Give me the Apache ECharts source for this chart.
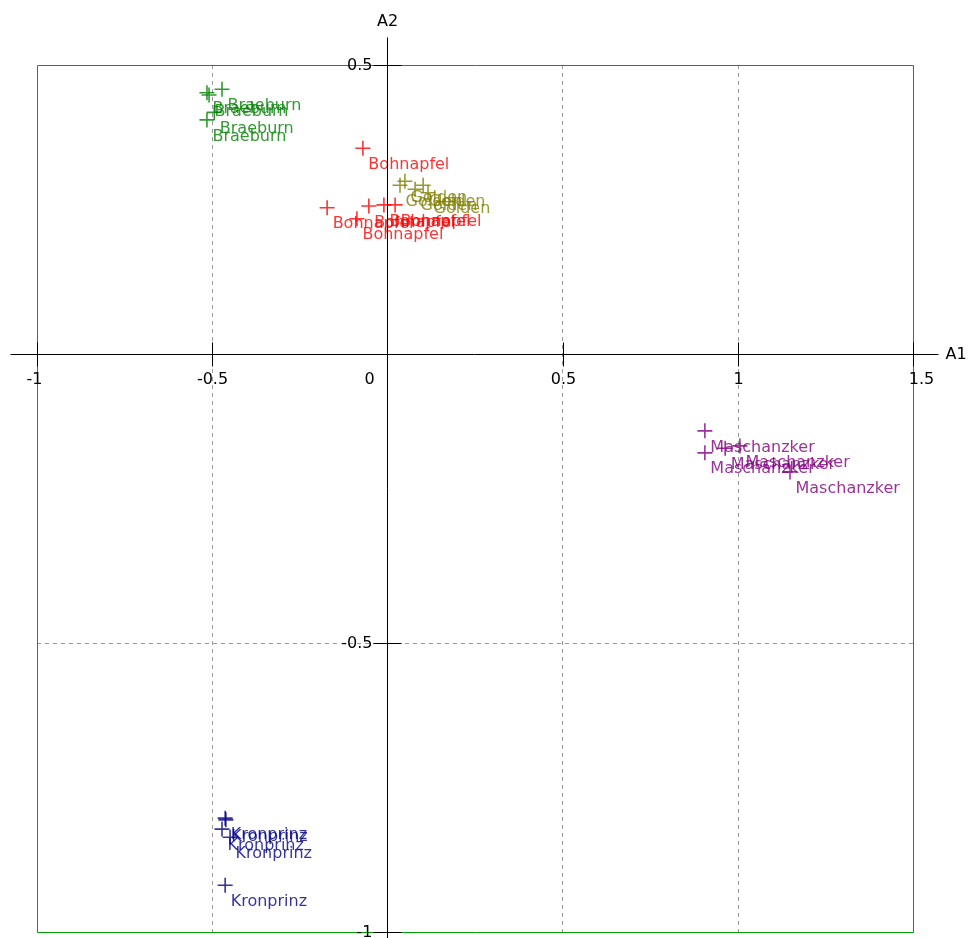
<!DOCTYPE html>
<html>
<head>
<meta charset="utf-8">
<script src="https://cdn.jsdelivr.net/npm/echarts@6/dist/echarts.min.js"></script>
<style>
  html, body { margin: 0; padding: 0; background: #ffffff; }
  #chart { width: 970px; height: 938px; }
</style>
</head>
<body>
<div id="chart"></div>
<script>
// Ordination scores (A1, A2) per apple cultivar
const braeburn    = [[-0.472, 0.458], [-0.515, 0.452], [-0.509, 0.448], [-0.494, 0.418], [-0.515, 0.405]];
const bohnapfel   = [[-0.070, 0.356], [-0.172, 0.253], [-0.087, 0.234], [-0.053, 0.256], [-0.010, 0.258], [0.022, 0.258]];
const golden      = [[0.050, 0.299], [0.036, 0.292], [0.102, 0.292], [0.079, 0.285], [0.116, 0.279]];
const maschanzker = [[0.906, -0.133], [0.906, -0.171], [0.964, -0.163], [1.006, -0.159], [1.149, -0.204]];
const kronprinz   = [[-0.463, -0.803], [-0.461, -0.806], [-0.472, -0.822], [-0.449, -0.836], [-0.463, -0.919]];

const cultivarNames  = ['Braeburn', 'Bohnapfel', 'Golden', 'Maschanzker', 'Kronprinz'];
const cultivarData   = [braeburn, bohnapfel, golden, maschanzker, kronprinz];
const cultivarColors = ['#008000', '#ff0000', '#808000', '#800080', '#000080'];

// Axis ranges and tick values
const xRange = { min: -1, max: 1.5, step: 0.5 };
const yRange = { min: -1, max: 0.5, step: 0.5 };
const xTickValues = [-1, -0.5, 0, 0.5, 1, 1.5];
const yTickValues = [-1, -0.5, 0.5];
const axisTitles = { x: 'A1', y: 'A2' };

const FONT = 'DejaVu Sans';
const FS = 16;
const PLUS = 'path://M0,6.7H15V8.3H0Z M6.7,0H8.3V15H6.7Z';

const chart = echarts.init(document.getElementById('chart'), null, { renderer: 'canvas' });

const gridBox = { left: 37, top: 65, width: 876, height: 867 };

const hiddenAxisParts = {
  axisLine: { show: false },
  axisTick: { show: false },
  axisLabel: { show: false }
};
const dashedSplit = {
  show: true, showMinLine: false, showMaxLine: false,
  lineStyle: { color: '#9a9a9a', width: 1, type: [4, 4] }
};

const option = {
  animation: false,
  backgroundColor: '#ffffff',
  grid: Object.assign({ show: false, containLabel: false, outerBoundsMode: 'none' }, gridBox),
  xAxis: Object.assign({
    type: 'value', min: xRange.min, max: xRange.max, interval: xRange.step,
    splitLine: dashedSplit
  }, hiddenAxisParts),
  yAxis: Object.assign({
    type: 'value', min: yRange.min, max: yRange.max, interval: yRange.step,
    splitLine: dashedSplit
  }, hiddenAxisParts),
  series: cultivarNames.map((name, i) => ({
    name: name,
    type: 'scatter',
    data: cultivarData[i],
    symbol: PLUS,
    symbolSize: 15,
    itemStyle: { color: cultivarColors[i] },
    label: {
      show: true,
      formatter: name,
      position: [13, 16],
      align: 'left',
      verticalAlign: 'top',
      color: cultivarColors[i],
      fontFamily: FONT,
      fontSize: FS
    },
    emphasis: { disabled: true },
    z: 3
  }))
};

chart.setOption(option);

// Frame, crossing axes through the origin, ticks, tick labels and axis titles
const crisp = v => Math.round(v) + 0.5;
const toPx = (x, y) => chart.convertToPixel({ xAxisIndex: 0, yAxisIndex: 0 }, [x, y]);
const origin = toPx(0, 0);
const ox = crisp(origin[0]), oy = crisp(origin[1]);
const corner0 = toPx(xRange.min, yRange.max);
const corner1 = toPx(xRange.max, yRange.min);
const plotLeft = crisp(corner0[0]), plotTop = crisp(corner0[1]);
const plotRight = crisp(corner1[0]), plotBottom = crisp(corner1[1]);

const ink = { stroke: '#000', lineWidth: 1 };
const txt = (text, x, y, align, vAlign) => ({
  type: 'text', x: x, y: y, z: 12,
  style: { text: text, fontFamily: FONT, fontSize: FS, fill: '#000', align: align, verticalAlign: vAlign }
});

const graphics = [
  { type: 'rect', z: 1, shape: { x: plotLeft, y: plotTop, width: plotRight - plotLeft, height: plotBottom - plotTop },
    style: { fill: 'none', stroke: '#00a000', lineWidth: 1 } },
  { type: 'line', z: 11, shape: { x1: plotLeft - 27, y1: oy, x2: plotRight + 25, y2: oy }, style: ink },
  { type: 'line', z: 11, shape: { x1: ox, y1: plotTop - 28, x2: ox, y2: plotBottom + 10 }, style: ink },
  txt(axisTitles.x, plotRight + 32, oy, 'left', 'middle'),
  txt(axisTitles.y, ox, plotTop - 44, 'center', 'middle')
];

xTickValues.forEach(v => {
  const px = crisp(toPx(v, 0)[0]);
  graphics.push({ type: 'line', z: 11, shape: { x1: px, y1: oy - 12, x2: px, y2: oy + 12 }, style: ink });
  let lx = px;
  if (v === 0) lx = px - 18;
  if (v === xRange.max) lx = px + 8;
  if (v === xRange.min) lx = px - 3;
  graphics.push(txt(String(v), lx, oy + 17, 'center', 'top'));
});

yTickValues.forEach(v => {
  const py = crisp(toPx(0, v)[1]);
  graphics.push({ type: 'line', z: 11, shape: { x1: ox - 14, y1: py, x2: ox + 14, y2: py }, style: ink });
  graphics.push(txt(String(v), ox - 15, py, 'right', 'middle'));
});

chart.setOption({ graphic: graphics });
</script>
</body>
</html>
